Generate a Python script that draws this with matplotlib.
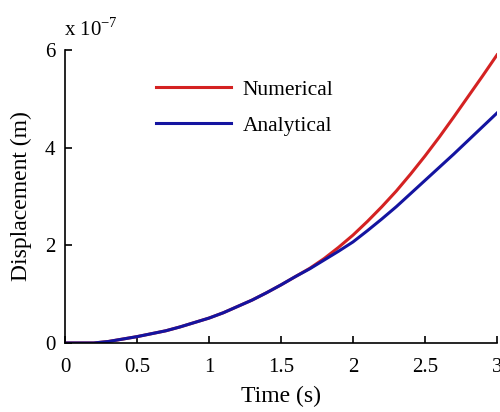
import matplotlib
matplotlib.use("Agg")
import matplotlib.pyplot as plt
from matplotlib.ticker import FuncFormatter

plt.rcParams['font.family'] = ['Liberation Serif', 'DejaVu Serif']
plt.rcParams['mathtext.fontset'] = 'custom'
plt.rcParams['mathtext.rm'] = 'Liberation Serif'

# Time samples (s) and displacement (units of 1e-7 m)
time_s = [0.0, 0.1, 0.2, 0.3, 0.4, 0.5, 0.6, 0.7, 0.8, 0.9, 1.0,
          1.1, 1.2, 1.3, 1.4, 1.5, 1.6, 1.7, 1.8, 1.9, 2.0,
          2.1, 2.2, 2.3, 2.4, 2.5, 2.6, 2.7, 2.8, 2.9, 3.0]
numerical = [0.0, 0.0, 0.0, 0.03, 0.08, 0.13, 0.19, 0.25, 0.33, 0.42, 0.51,
             0.62, 0.75, 0.88, 1.03, 1.19, 1.36, 1.53, 1.73, 1.96, 2.21,
             2.49, 2.79, 3.11, 3.46, 3.83, 4.22, 4.63, 5.05, 5.47, 5.90]
analytical = [0.0, 0.0, 0.0, 0.03, 0.08, 0.13, 0.19, 0.25, 0.33, 0.42, 0.51,
              0.62, 0.75, 0.88, 1.03, 1.19, 1.36, 1.52, 1.70, 1.88, 2.07,
              2.30, 2.54, 2.79, 3.06, 3.33, 3.60, 3.87, 4.15, 4.43, 4.71]
scale = 1e-7

x_ticks = [0, 0.5, 1, 1.5, 2, 2.5, 3]
x_tick_labels = ['0', '0.5', '1', '1.5', '2', '2.5', '3']
y_ticks = [0, 2, 4, 6]

fig = plt.figure(figsize=(5.0, 4.12), dpi=100)
ax = fig.add_axes([0.13, 0.1675, 0.864, 0.711])

ax.plot(time_s, [v * scale for v in numerical], color='#d42222', lw=2.2,
        label='Numerical')
ax.plot(time_s, [v * scale for v in analytical], color='#1414a0', lw=2.2,
        label='Analytical')

ax.set_xlim(0, 3)
ax.set_ylim(0, 6 * scale)
ax.set_xticks(x_ticks)
ax.set_xticklabels(x_tick_labels)
ax.set_yticks([t * scale for t in y_ticks])
ax.yaxis.set_major_formatter(FuncFormatter(lambda v, p: f"{v / scale:.0f}"))

for side in ('top', 'right'):
    ax.spines[side].set_visible(False)
for side in ('left', 'bottom'):
    ax.spines[side].set_linewidth(1.2)
ax.tick_params(direction='in', length=5, width=1.2, labelsize=15)
ax.tick_params(axis='x', pad=11)
ax.tick_params(axis='y', pad=7)

ax.set_xlabel('Time (s)', fontsize=17, labelpad=6)
ax.set_ylabel('Displacement (m)', fontsize=17, labelpad=9)

fig.text(0.128, 0.912, r'x 10$^{\mathregular{-7}}$', fontsize=15,
         ha='left', va='baseline')

ax.legend(loc='upper left', bbox_to_anchor=(0.165, 0.965), frameon=False,
          fontsize=15.5, handlelength=3.5, handletextpad=0.55,
          labelspacing=0.75)

fig.savefig('out.png', dpi=100)
